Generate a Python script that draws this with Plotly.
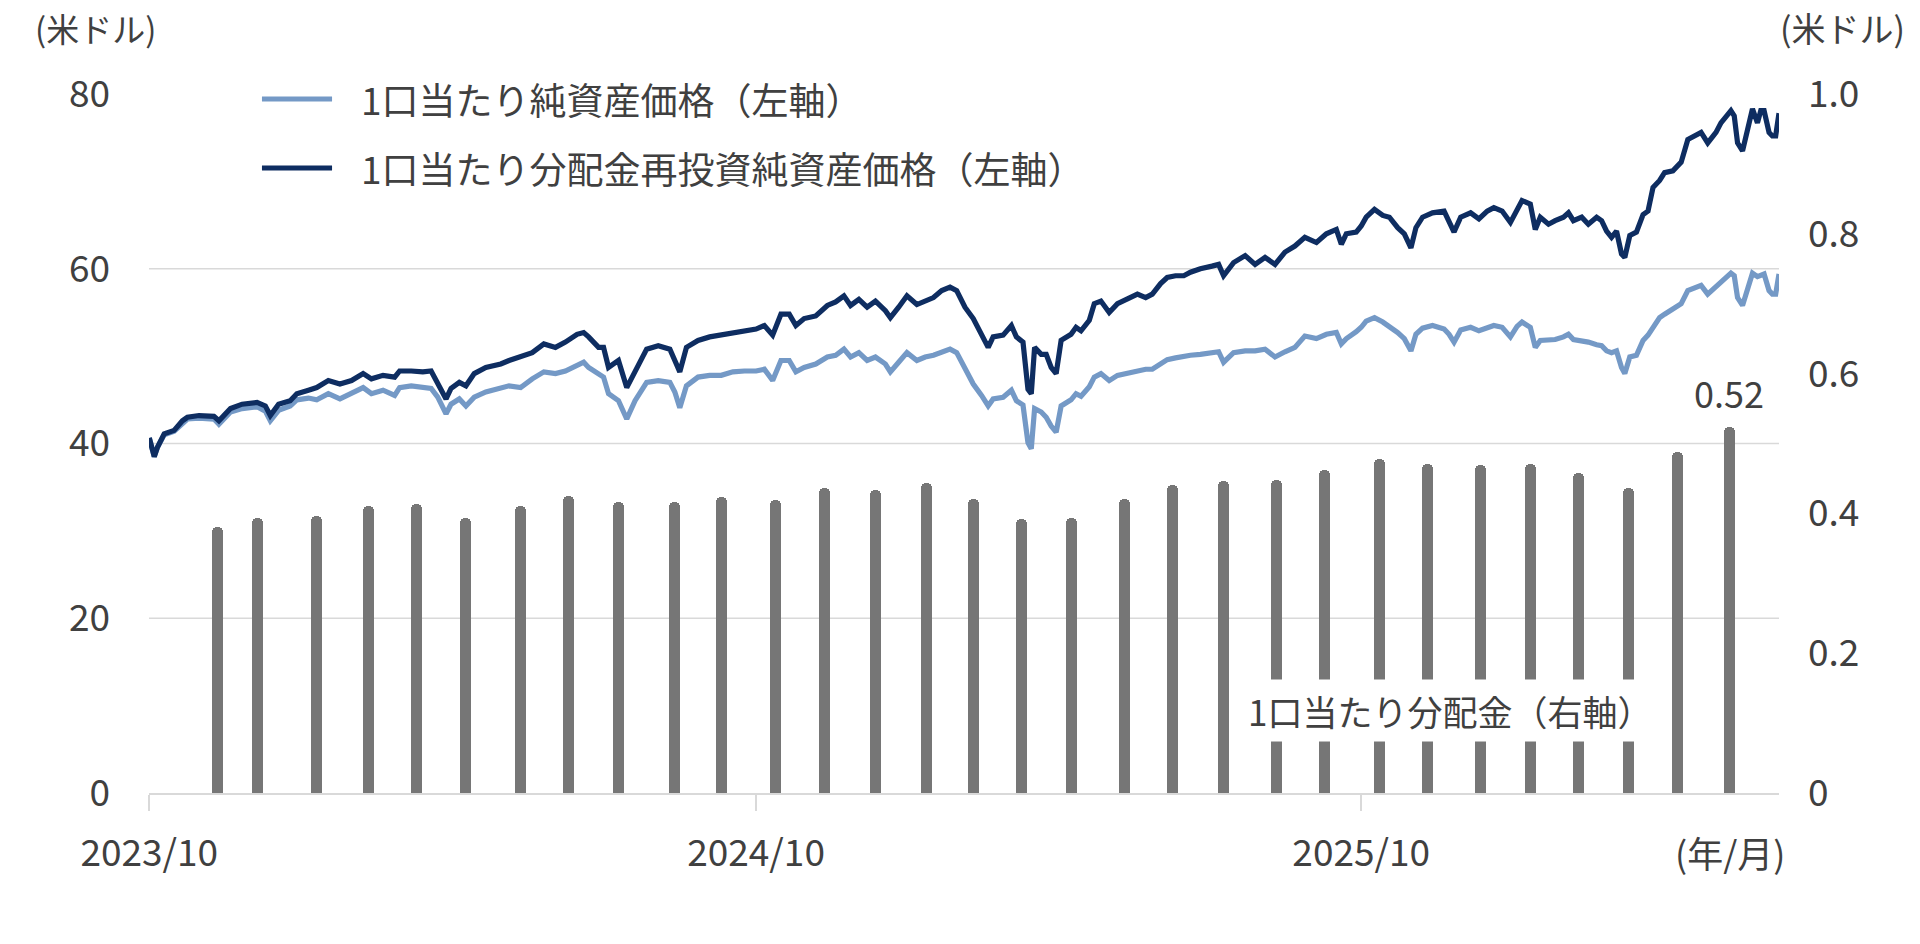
import plotly.graph_objects as go

# ---------------- data ----------------
DATES = [
    "2023-10-24", "2023-10-27", "2023-10-29", "2023-11-02", "2023-11-08", "2023-11-13", "2023-11-16", "2023-11-23",
    "2023-12-02", "2023-12-05", "2023-12-12", "2023-12-19", "2023-12-28", "2024-01-02", "2024-01-05", "2024-01-10",
    "2024-01-17", "2024-01-21", "2024-01-28", "2024-02-02", "2024-02-09", "2024-02-16", "2024-02-23", "2024-03-01",
    "2024-03-06", "2024-03-13", "2024-03-20", "2024-03-23", "2024-03-30", "2024-04-06", "2024-04-11", "2024-04-15",
    "2024-04-20", "2024-04-23", "2024-04-28", "2024-05-02", "2024-05-07", "2024-05-14", "2024-05-23", "2024-05-28",
    "2024-06-04", "2024-06-11", "2024-06-18", "2024-06-25", "2024-07-01", "2024-07-08", "2024-07-12", "2024-07-15",
    "2024-07-21", "2024-07-24", "2024-07-27", "2024-08-02", "2024-08-07", "2024-08-12", "2024-08-19", "2024-08-26",
    "2024-09-02", "2024-09-05", "2024-09-08", "2024-09-12", "2024-09-19", "2024-09-26", "2024-10-03", "2024-10-10",
    "2024-10-17", "2024-10-24", "2024-10-29", "2024-11-03", "2024-11-08", "2024-11-13", "2024-11-17", "2024-11-22",
    "2024-11-29", "2024-12-06", "2024-12-11", "2024-12-16", "2024-12-20", "2024-12-25", "2024-12-30", "2025-01-04",
    "2025-01-10", "2025-01-13", "2025-01-18", "2025-01-23", "2025-01-29", "2025-02-03", "2025-02-08", "2025-02-13",
    "2025-02-18", "2025-02-22", "2025-02-27", "2025-03-04", "2025-03-09", "2025-03-13", "2025-03-16", "2025-03-22",
    "2025-03-27", "2025-03-30", "2025-04-03", "2025-04-06", "2025-04-08", "2025-04-10", "2025-04-14", "2025-04-17",
    "2025-04-20", "2025-04-23", "2025-04-26", "2025-05-02", "2025-05-05", "2025-05-08", "2025-05-13", "2025-05-16",
    "2025-05-20", "2025-05-25", "2025-05-30", "2025-06-05", "2025-06-11", "2025-06-16", "2025-06-20", "2025-06-25",
    "2025-06-29", "2025-07-04", "2025-07-09", "2025-07-13", "2025-07-19", "2025-07-26", "2025-07-30", "2025-08-02",
    "2025-08-08", "2025-08-15", "2025-08-21", "2025-08-27", "2025-09-02", "2025-09-08", "2025-09-14", "2025-09-20",
    "2025-09-27", "2025-10-03", "2025-10-09", "2025-10-12", "2025-10-15", "2025-10-21", "2025-10-24", "2025-10-27",
    "2025-11-01", "2025-11-06", "2025-11-10", "2025-11-15", "2025-11-19", "2025-11-23", "2025-11-26", "2025-11-30",
    "2025-12-06", "2025-12-13", "2025-12-16", "2025-12-19", "2025-12-23", "2025-12-29", "2026-01-03", "2026-01-08",
    "2026-01-12", "2026-01-17", "2026-01-22", "2026-01-26", "2026-01-29", "2026-02-03", "2026-02-06", "2026-02-09",
    "2026-02-14", "2026-02-18", "2026-02-23", "2026-02-26", "2026-03-01", "2026-03-06", "2026-03-10", "2026-03-15",
    "2026-03-18", "2026-03-21", "2026-03-24", "2026-03-27", "2026-03-30", "2026-04-01", "2026-04-04", "2026-04-08",
    "2026-04-12", "2026-04-15", "2026-04-18", "2026-04-22", "2026-04-25", "2026-04-30", "2026-05-05", "2026-05-09",
    "2026-05-14", "2026-05-17", "2026-05-21", "2026-05-26", "2026-05-29", "2026-06-04", "2026-06-06", "2026-06-08",
    "2026-06-11", "2026-06-14", "2026-06-17", "2026-06-20", "2026-06-22", "2026-06-24", "2026-06-27", "2026-06-29",
    "2026-07-01", "2026-07-03",
]

# 1口当たり分配金再投資純資産価格 (米ドル, 左軸)
NAV_REINVESTED = [
    40.65, 38.5, 39.6, 41.1, 41.5, 42.6, 43.0, 43.2,
    43.1, 42.6, 44.0, 44.5, 44.7, 44.3, 43.2, 44.5,
    44.9, 45.7, 46.1, 46.4, 47.2, 46.8, 47.2, 48.0,
    47.4, 47.8, 47.6, 48.3, 48.3, 48.2, 48.3, 47.0,
    45.1, 46.3, 47.0, 46.6, 48.0, 48.7, 49.1, 49.5,
    49.9, 50.4, 51.4, 51.0, 51.6, 52.5, 52.7, 52.2,
    51.0, 51.0, 48.7, 49.5, 46.4, 48.3, 50.8, 51.2,
    50.8, 49.5, 48.2, 51.0, 51.8, 52.2, 52.4, 52.7,
    52.9, 53.1, 53.5, 52.4, 54.8, 54.8, 53.5, 54.3,
    54.6, 55.8, 56.2, 56.9, 55.8, 56.5, 55.6, 56.3,
    55.2, 54.4, 55.6, 56.9, 55.9, 56.3, 56.7, 57.5,
    57.9, 57.5, 55.6, 54.3, 52.5, 51.0, 52.2, 52.4,
    53.5, 52.2, 51.6, 46.2, 45.7, 51.0, 50.2, 50.2,
    48.7, 48.0, 51.8, 52.5, 53.3, 52.9, 54.1, 56.0,
    56.3, 55.0, 56.0, 56.5, 57.1, 56.7, 57.1, 58.3,
    59.0, 59.2, 59.2, 59.6, 60.0, 60.3, 60.5, 59.2,
    60.7, 61.5, 60.5, 61.3, 60.5, 61.9, 62.6, 63.6,
    63.0, 64.0, 64.5, 62.8, 64.0, 64.2, 64.9, 65.9,
    66.8, 66.1, 65.9, 64.7, 64.0, 62.4, 64.7, 65.9,
    66.4, 66.6, 65.5, 64.2, 65.9, 66.4, 65.7, 66.6,
    67.0, 66.6, 65.3, 66.6, 67.8, 67.4, 64.5, 65.9,
    65.1, 65.5, 65.9, 66.4, 65.5, 65.9, 65.1, 65.9,
    65.5, 64.3, 63.6, 64.3, 61.7, 61.3, 63.8, 64.2,
    66.2, 66.6, 69.3, 70.1, 71.0, 71.2, 72.2, 74.8,
    75.4, 75.6, 74.4, 75.6, 76.7, 78.1, 77.5, 74.4,
    73.5, 76.2, 78.3, 76.7, 78.1, 78.1, 75.6, 75.2,
    75.2, 77.8,
]

# 1口当たり純資産価格 (米ドル, 左軸)
NAV = [
    40.65, 38.5, 39.6, 41.0, 41.4, 42.4, 42.8, 42.9,
    42.8, 42.2, 43.6, 44.0, 44.2, 43.7, 42.6, 43.8,
    44.3, 45.0, 45.2, 45.0, 45.7, 45.1, 45.7, 46.4,
    45.7, 46.1, 45.5, 46.4, 46.6, 46.4, 46.3, 45.3,
    43.4, 44.5, 45.1, 44.3, 45.3, 45.9, 46.3, 46.6,
    46.4, 47.4, 48.2, 48.0, 48.3, 48.9, 49.3, 48.7,
    48.0, 47.6, 45.7, 44.9, 42.8, 44.9, 47.0, 47.2,
    47.0, 45.9, 44.1, 46.6, 47.6, 47.8, 47.8, 48.2,
    48.3, 48.3, 48.5, 47.2, 49.5, 49.5, 48.2, 48.7,
    49.1, 49.9, 50.1, 50.8, 49.9, 50.4, 49.5, 49.9,
    49.1, 48.2, 49.3, 50.4, 49.5, 49.9, 50.1, 50.4,
    50.8, 50.4, 48.5, 46.8, 45.5, 44.3, 45.1, 45.3,
    46.1, 44.9, 44.4, 40.1, 39.4, 44.0, 43.6, 43.0,
    42.0, 41.3, 44.3, 45.0, 45.7, 45.4, 46.5, 47.6,
    48.0, 47.2, 47.8, 48.1, 48.4, 48.5, 48.5, 49.2,
    49.6, 49.8, 50.0, 50.1, 50.2, 50.4, 50.5, 49.3,
    50.4, 50.6, 50.6, 50.8, 49.9, 50.5, 51.0, 52.3,
    52.0, 52.5, 52.7, 51.4, 52.0, 52.8, 53.3, 54.0,
    54.4, 53.9, 53.4, 52.7, 52.0, 50.6, 52.5, 53.2,
    53.5, 53.1, 52.5, 51.6, 53.0, 53.3, 52.9, 53.3,
    53.5, 53.3, 52.2, 53.4, 53.9, 53.3, 51.0, 51.8,
    51.9, 51.9, 52.2, 52.5, 51.9, 51.8, 51.6, 51.3,
    51.2, 50.6, 50.4, 50.6, 48.7, 48.0, 49.9, 50.1,
    51.8, 52.4, 53.3, 54.4, 54.8, 55.4, 56.0, 57.5,
    57.9, 58.1, 57.1, 58.0, 58.6, 59.5, 59.2, 56.7,
    55.8, 57.6, 59.5, 59.1, 59.2, 59.4, 57.5, 57.1,
    57.1, 59.4,
]

# 1口当たり分配金 (米ドル, 右軸)
DIST_DATES = [
    "2023-12-04", "2023-12-28", "2024-02-02", "2024-03-04", "2024-04-02", "2024-05-02",
    "2024-06-04", "2024-07-03", "2024-08-02", "2024-09-05", "2024-10-03", "2024-11-05",
    "2024-12-04", "2025-01-04", "2025-02-04", "2025-03-04", "2025-04-02", "2025-05-02",
    "2025-06-03", "2025-07-02", "2025-08-02", "2025-09-03", "2025-10-02", "2025-11-04",
    "2025-12-03", "2026-01-04", "2026-02-03", "2026-03-04", "2026-04-03", "2026-05-03",
    "2026-06-03",
]
DISTRIBUTIONS = [
    0.381, 0.393, 0.397, 0.411, 0.413, 0.394,
    0.411, 0.425, 0.416, 0.417, 0.424, 0.419,
    0.437, 0.434, 0.443, 0.421, 0.392, 0.393,
    0.420, 0.440, 0.447, 0.448, 0.462, 0.478,
    0.470, 0.469, 0.470, 0.458, 0.437, 0.488,
    0.523,
]

X_RANGE = ["2023-10-23 20:00", "2026-07-03"]
X_TICKS = ["2023-10-24", "2024-10-24", "2025-10-24"]
X_TICK_TEXT = ["2023/10", "2024/10", "2025/10"]
LEFT_TICKS = [0, 20, 40, 60, 80]
RIGHT_TICKS = [0, 0.2, 0.4, 0.6, 0.8, 1.0]
RIGHT_TICK_TEXT = ["0", "0.2", "0.4", "0.6", "0.8", "1.0"]

NAME_NAV = "1口当たり純資産価格（左軸）"
NAME_REINV = "1口当たり分配金再投資純資産価格（左軸）"
NAME_DIST = "1口当たり分配金（右軸）"

# ---------------- style ----------------
FONT = "Noto Sans CJK JP"
TEXT = "#404040"
GRID = "#d9d9d9"
C_LIGHT = "#7499c6"
C_DARK = "#0e2d61"
C_BAR = "#767676"
BAR_WIDTH_MS = 6.6 * 86400000
LINE_W = 5.2

fig = go.Figure()

fig.add_trace(go.Bar(
    x=DIST_DATES, y=DISTRIBUTIONS, yaxis="y2", name=NAME_DIST,
    width=BAR_WIDTH_MS,
    marker=dict(color=C_BAR, line=dict(width=0), cornerradius="50%"),
    showlegend=False,
))
fig.add_trace(go.Scatter(
    x=DATES, y=NAV, mode="lines", name=NAME_NAV,
    line=dict(color=C_LIGHT, width=LINE_W), showlegend=False,
))
fig.add_trace(go.Scatter(
    x=DATES, y=NAV_REINVESTED, mode="lines", name=NAME_REINV,
    line=dict(color=C_DARK, width=LINE_W), showlegend=False,
))

shapes = []
for v in LEFT_TICKS:
    if 0 < v < LEFT_TICKS[-1]:
        shapes.append(dict(type="line", xref="paper", x0=0, x1=1, yref="y", y0=v, y1=v,
                           line=dict(color=GRID, width=1.5), layer="below"))

# manual legend
LEG_X0, LEG_X1, LEG_TX = 0.0693, 0.1123, 0.1290
LEG_Y = [0.9928, 0.8941]
for yy, col in zip(LEG_Y, [C_LIGHT, C_DARK]):
    shapes.append(dict(type="line", xref="paper", yref="paper", x0=LEG_X0, x1=LEG_X1,
                       y0=yy, y1=yy, line=dict(color=col, width=5)))

annotations = [
    dict(text=NAME_NAV, xref="paper", yref="paper", x=LEG_TX, y=LEG_Y[0],
         xanchor="left", yanchor="middle", showarrow=False,
         font=dict(family=FONT, size=37, color=TEXT)),
    dict(text=NAME_REINV, xref="paper", yref="paper", x=LEG_TX, y=LEG_Y[1],
         xanchor="left", yanchor="middle", showarrow=False,
         font=dict(family=FONT, size=37, color=TEXT)),
    dict(text=NAME_DIST, xref="paper", yref="paper", x=0.798, y=0.1187,
         xanchor="center", yanchor="middle", showarrow=False, bgcolor="white", borderpad=5,
         font=dict(family=FONT, size=35, color=TEXT)),
    dict(text=f"{DISTRIBUTIONS[-1]:.2f}", x=DIST_DATES[-1], y=DISTRIBUTIONS[-1], xref="x", yref="y2",
         xanchor="center", yanchor="middle", yshift=35, showarrow=False,
         font=dict(family=FONT, size=36, color=TEXT)),
    dict(text="(米ドル)", xref="paper", yref="paper", x=-0.0328, y=1.0945,
         xanchor="center", yanchor="middle", showarrow=False,
         font=dict(family=FONT, size=33, color=TEXT)),
    dict(text="(米ドル)", xref="paper", yref="paper", x=1.0387, y=1.0945,
         xanchor="center", yanchor="middle", showarrow=False,
         font=dict(family=FONT, size=34, color=TEXT)),
    dict(text="(年/月)", xref="paper", yref="paper", x=1.005, y=-0.0844,
         xanchor="right", yanchor="middle", showarrow=False,
         font=dict(family=FONT, size=36, color=TEXT)),
]

fig.update_layout(
    width=1920, height=944,
    margin=dict(l=149, r=141, t=94, b=151, pad=0),
    paper_bgcolor="white", plot_bgcolor="white",
    font=dict(family=FONT, size=36, color=TEXT),
    showlegend=False,
    bargap=0,
    xaxis=dict(
        type="date", range=X_RANGE, tickvals=X_TICKS, ticktext=X_TICK_TEXT,
        ticks="outside", ticklen=16, tickwidth=1.5, tickcolor=GRID,
        showline=True, linecolor=GRID, linewidth=2,
        showgrid=False, zeroline=False,
        tickfont=dict(family=FONT, size=37, color=TEXT),
        ticklabelstandoff=11,
    ),
    yaxis=dict(
        range=[0, 80], tickvals=LEFT_TICKS, showgrid=False, zeroline=False, showline=False,
        ticks="", tickfont=dict(family=FONT, size=37, color=TEXT), ticklabelstandoff=38,
    ),
    yaxis2=dict(
        range=[0, 1.0], tickvals=RIGHT_TICKS, ticktext=RIGHT_TICK_TEXT,
        overlaying="y", side="right", showgrid=False, zeroline=False, showline=False,
        ticks="", tickfont=dict(family=FONT, size=37, color=TEXT), ticklabelstandoff=28,
    ),
    shapes=shapes,
    annotations=annotations,
)

fig.write_html("out.html")
